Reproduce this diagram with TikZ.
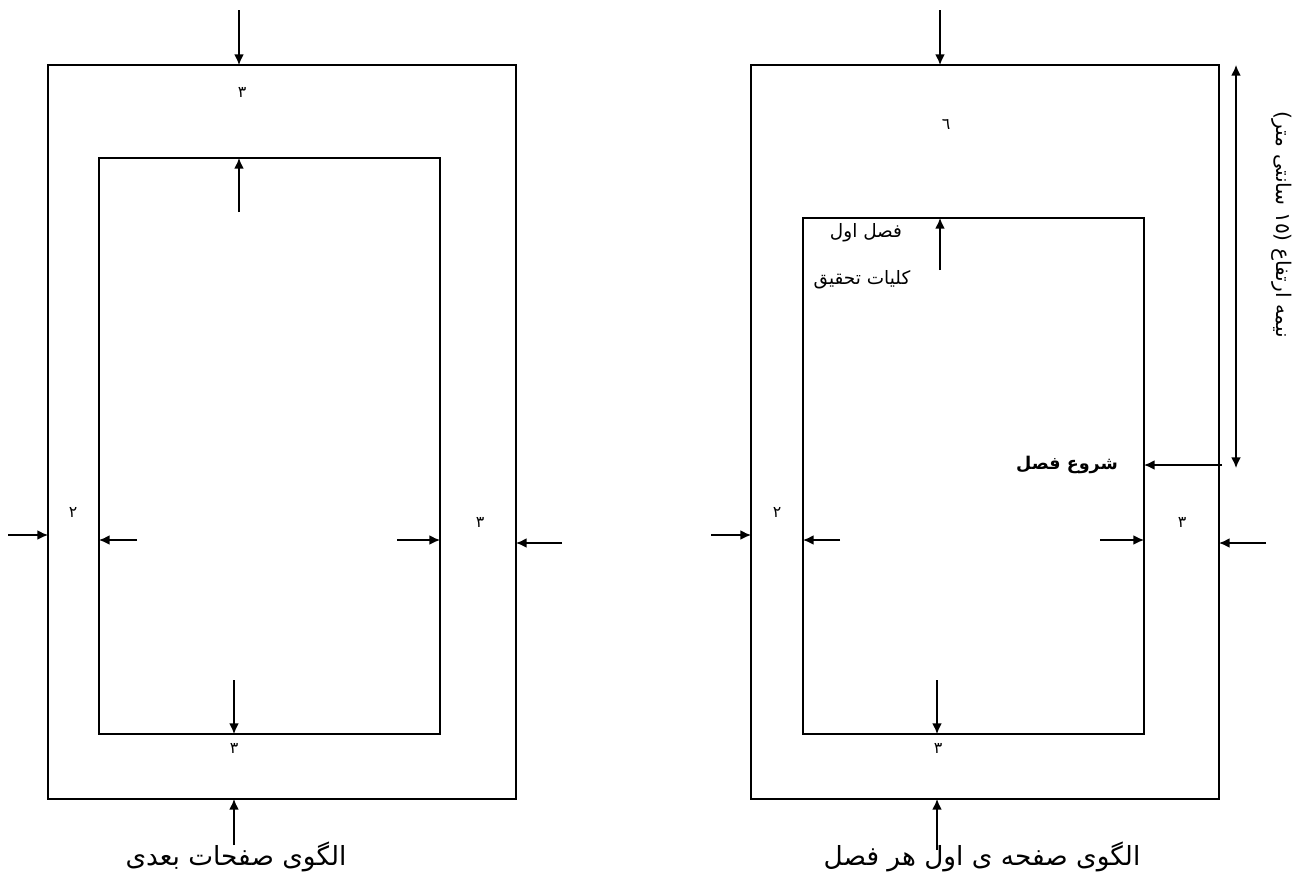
\documentclass[tikz,border=0pt]{standalone}
\usepackage{fontspec}
\usepackage{tikz}
\usetikzlibrary{positioning,arrows.meta}
\TeXXeTstate=1
\newfontfamily\arabicfont[Script=Arabic]{DejaVu Sans}
\newcommand{\rtl}[1]{{\arabicfont\beginR #1\endR}}

\begin{document}
\begin{tikzpicture}[x=0.02cm,y=-0.02cm,>={Latex[length=6pt,width=5.5pt]},line width=0.8pt]
    \tikzset{
        page/.style={draw,line width=0.8pt},
        num/.style={font=\fontsize{9}{10}\selectfont,inner sep=0pt},
        caption/.style={font=\fontsize{15}{17}\selectfont,inner sep=0pt},
        smalltext/.style={font=\fontsize{10.5}{12}\selectfont,inner sep=0pt}
    }
    \useasboundingbox (0,0) rectangle (1304,876);

    % left page
    \coordinate (oL1) at (48,65);   \coordinate (oL2) at (516,799);
    \coordinate (iL1) at (99,158);  \coordinate (iL2) at (440,734);
    \draw[page] (oL1) rectangle (oL2);
    \draw[page] (iL1) rectangle (iL2);
    \coordinate (aLtop) at (239,10);
    \coordinate (aLitop) at (239,212);
    \coordinate (aLibot) at (234,680);
    \coordinate (aLbot) at (234,845);
    \coordinate (aLleft) at (8,535);
    \coordinate (aLileft) at (137,540);
    \coordinate (aLiright) at (397,540);
    \coordinate (aLright) at (562,543);
    \draw[->] (aLtop) -- (aLtop |- oL1);
    \draw[->] (aLitop) -- (aLitop |- iL1);
    \draw[->] (aLibot) -- (aLibot |- iL2);
    \draw[->] (aLbot) -- (aLbot |- oL2);
    \draw[->] (aLleft) -- (aLleft -| oL1);
    \draw[->] (aLileft) -- (aLileft -| iL1);
    \draw[->] (aLiright) -- (aLiright -| iL2);
    \draw[->] (aLright) -- (aLright -| oL2);
    \node[num] (nLtop) at (242,92) {\rtl{٣}};
    \node[num] (nLbot) at (234,748) {\rtl{٣}};
    \node[num] (nLleft) at (73,512) {\rtl{٢}};
    \node[num] (nLright) at (480,522) {\rtl{٣}};
    \node[caption] (capL) at (236,857) {\rtl{الگوی صفحات بعدی}};

    % right page
    \coordinate (oR1) at (751,65);  \coordinate (oR2) at (1219,799);
    \coordinate (iR1) at (803,218); \coordinate (iR2) at (1144,734);
    \draw[page] (oR1) rectangle (oR2);
    \draw[page] (iR1) rectangle (iR2);
    \coordinate (aRtop) at (940,10);
    \coordinate (aRitop) at (940,270);
    \coordinate (aRibot) at (937,680);
    \coordinate (aRbot) at (937,850);
    \coordinate (aRleft) at (711,535);
    \coordinate (aRileft) at (840,540);
    \coordinate (aRiright) at (1100,540);
    \coordinate (aRright) at (1266,543);
    \draw[->] (aRtop) -- (aRtop |- oR1);
    \draw[->] (aRitop) -- (aRitop |- iR1);
    \draw[->] (aRibot) -- (aRibot |- iR2);
    \draw[->] (aRbot) -- (aRbot |- oR2);
    \draw[->] (aRleft) -- (aRleft -| oR1);
    \draw[->] (aRileft) -- (aRileft -| iR1);
    \draw[->] (aRiright) -- (aRiright -| iR2);
    \draw[->] (aRright) -- (aRright -| oR2);
    \node[num] (nRtop) at (946,124) {\rtl{٦}};
    \node[num] (nRbot) at (938,748) {\rtl{٣}};
    \node[num] (nRleft) at (777,512) {\rtl{٢}};
    \node[num] (nRright) at (1182,522) {\rtl{٣}};
    \node[smalltext] (chap) at (866,233) {\rtl{فصل اول}};
    \node[smalltext] (chapname) at (862,280) {\rtl{کلیات تحقیق}};
    \node[caption] (capR) at (982,857) {\rtl{الگوی صفحه ی اول هر فصل}};

    % start of chapter
    \coordinate (hTop) at (1236,65);
    \coordinate (hBot) at (1236,468);
    \draw[<->] (hTop) -- (hBot);
    \coordinate (sFrom) at (1222,465);
    \draw[->] (sFrom) -- (sFrom -| iR2);
    \node[smalltext,font=\fontsize{10}{11}\selectfont\bfseries] (start) at (1067,465) {\rtl{شروع فصل}};
    \node[font=\fontsize{11.5}{13}\selectfont,inner sep=0pt,rotate=-90] (half) at (1282,225) {\rtl{نیمه ارتفاع (١٥ سانتی متر)}};
\end{tikzpicture}
\end{document}
